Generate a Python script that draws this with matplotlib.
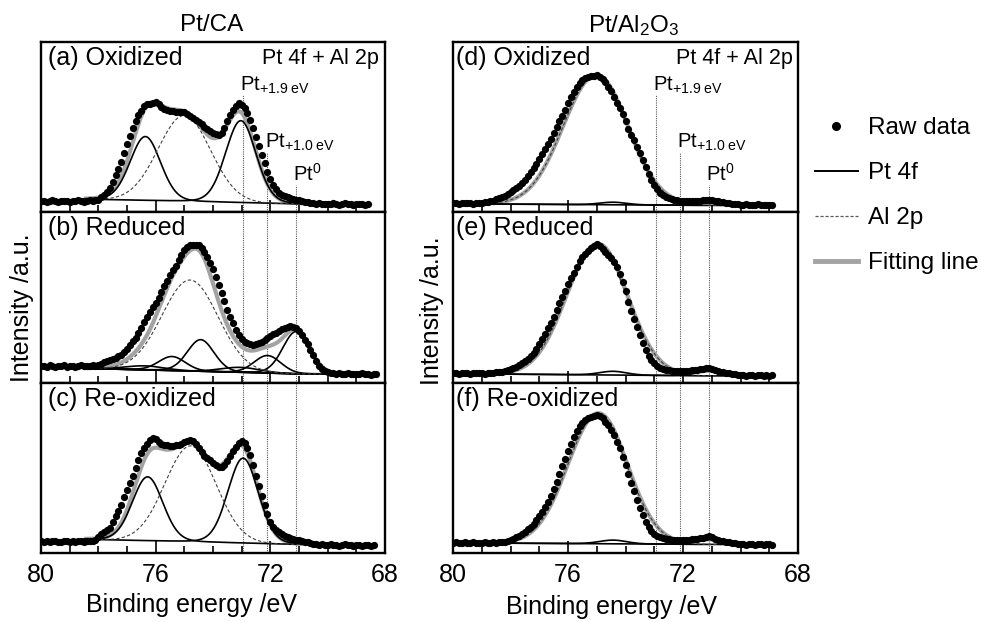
import numpy as np
import matplotlib
matplotlib.use('Agg')
import matplotlib.pyplot as plt
from matplotlib.lines import Line2D
from matplotlib.ticker import MultipleLocator

plt.rcParams['font.family'] = ['Liberation Sans', 'DejaVu Sans']
plt.rcParams['mathtext.fontset'] = 'custom'
plt.rcParams['mathtext.rm'] = 'Liberation Sans'
plt.rcParams['mathtext.it'] = 'Liberation Sans:italic'

# raw intensity (a.u.), one point every 0.1 eV starting at 80.0 eV
STEP = 0.1
raw_a = [10.5, 11, 10, 10.5, 11.5, 10.5, 10, 11, 10.5, 11, 10, 10.5, 11, 11.5, 10.5, 10, 11, 11.5, 11, 11.5,
         12, 15, 17, 20, 24, 30, 37, 43, 50, 59,
         68, 76, 84, 91, 97, 101, 106, 108, 108, 109,
         110, 108, 105, 103, 102, 101, 101, 100, 100, 100,
         100, 98, 96, 94, 92, 90, 88, 85, 83, 81,
         79, 78, 77, 79, 84, 91, 97, 102, 106, 109,
         107, 104, 99, 92, 84, 75, 66, 57, 49, 40,
         33, 27, 23, 19, 17, 16, 15, 14, 13, 12,
         11.5, 11, 10, 9.5, 9, 8.5, 8, 8.5, 7.5, 8,
         8, 7.5, 8.5, 8, 7, 8, 8.5, 7.5, 8, 7,
         8, 7.5, 8, 7, 7.5]
raw_b = [16.5, 17, 16, 17.5, 16.5, 16, 17, 16.5, 17.5, 16, 16.5, 17, 16, 17, 17.5, 16.5, 17, 16.5, 17.5, 17,
         17.5, 19, 21, 22, 23, 24, 25, 26.5, 28, 30.5,
         34, 38, 41.5, 45, 50, 55, 61, 66, 71, 75.5,
         80, 85, 90, 96, 101, 107, 112, 116.5, 122, 127,
         132, 135, 137, 137.5, 137.5, 137, 134, 130, 125, 119,
         113, 105, 97, 89, 82, 73, 66, 60, 53, 48,
         44, 41, 40, 39, 38, 38.5, 40, 41, 42.5, 44.5,
         46.5, 48.5, 50, 52, 53.5, 55, 56, 56.5, 56, 54.5,
         52, 48, 43, 38.5, 33, 27.5, 21.5, 17, 14, 12,
         11, 10, 9.5, 9, 9.5, 8.5, 9, 9.5, 8.5, 9,
         9, 8.5, 9.5, 8.5, 9, 8, 9, 8.5]
raw_c = [12, 11.5, 12.5, 11, 12, 12.5, 11.5, 11, 12, 12.5, 11.5, 12, 11, 12.5, 12, 11.5, 12, 12.5, 12, 13,
         16, 19, 21.5, 23.5, 25, 31, 37, 42, 48, 56,
         63, 70, 77, 85, 93, 100, 105, 109, 113, 115.5,
         114, 111, 109, 108, 108, 107.5, 107, 108, 108.5, 109.5,
         111, 112.5, 113.5, 112, 109.5, 105, 101, 97.5, 95, 93,
         90.5, 88, 86, 86, 88.5, 92, 97, 102, 106, 110,
         112, 110, 105, 98, 88, 77, 67, 57, 48, 39,
         31, 26, 23, 21, 19, 17, 16, 15, 14.5, 13.5,
         13, 12, 11.5, 11, 10, 9.5, 9, 8.5, 9, 8,
         8.5, 9, 8, 8.5, 7.5, 8.5, 9, 8, 8.5, 7.5,
         8.5, 8, 7.5, 8.5, 8, 7.5, 8]
raw_d = [8.5, 9, 8, 9, 8.5, 9, 8.5, 8, 9, 8.5,
         9, 9.5, 10, 10.5, 11.3, 12.5, 13.5, 14.5, 16, 17.5,
         19.5, 21.5, 23.5, 26, 29, 32, 36, 40, 44, 48,
         53, 58, 63, 67.5, 72.5, 78.5, 84.5, 90.5, 96, 102,
         109, 115, 120, 125, 129.5, 132.5, 134, 135, 136, 136,
         137, 135.5, 133.5, 130, 125, 120.5, 115, 109, 103.5, 98,
         91, 83, 77, 71.5, 65, 58.5, 51.5, 45, 37.5, 32,
         26.5, 22.5, 19, 16.5, 15, 13.5, 12.5, 12, 11.5, 11,
         10.5, 10.5, 10.5, 10.5, 11, 11, 11, 11.5, 11.5, 12,
         11.5, 11, 10.5, 10, 9.5, 9, 8.5, 8, 7.5, 7.5,
         7, 6.5, 7.5, 7, 6.5, 7, 7.5, 6.5, 7, 6.5,
         7, 6.5]
raw_e = [9.5, 10, 9, 9.5, 10, 9.5, 9, 10, 9.5, 10,
         9.5, 9, 10, 9.5, 10, 10.5, 10.5, 11, 11.5, 12.5,
         13.5, 14.5, 16, 17.5, 19.5, 21.5, 24, 27, 30, 34,
         39, 44, 49, 55, 60, 66, 73, 80, 85.5, 91,
         98, 104, 109.5, 115.5, 121, 125, 128, 131, 134, 136,
         138, 136, 133, 130, 127, 124, 120, 115, 108, 100,
         91, 81, 72, 64, 56, 48, 39.5, 33, 27, 23,
         19.5, 17, 15, 14, 13, 12.5, 12, 12, 11.5, 11.5,
         11.5, 12, 12, 12.5, 13, 13, 13.5, 14, 14.5, 14.5,
         14, 13, 12, 11, 10.5, 10, 9.5, 9, 8.5, 8,
         7.5, 8, 7, 7.5, 8, 7, 7.5, 8, 7, 7.5,
         7, 7.5]
raw_f = [10.5, 11, 10, 10.5, 11, 10.5, 10, 11, 10.5, 10,
         10.5, 11, 10.5, 10, 11, 10.5, 11, 11, 11.5, 12,
         13, 14.5, 16, 17.5, 19.5, 21.5, 24, 26.5, 29.5, 33,
         37, 41, 46, 51.5, 57.5, 64, 71, 79, 87, 94,
         102, 109.5, 116, 122, 127, 130.5, 133, 135, 136.5, 137.5,
         138, 137.5, 135, 131.5, 128, 123.5, 118, 111, 105, 96.5,
         88, 79, 70, 62, 53, 45, 38, 31.5, 26.5, 22,
         19.5, 17.5, 16, 15, 14.5, 14, 13.5, 13, 13, 13,
         13, 13.5, 13.5, 14, 14, 14.5, 15, 15.5, 16, 17,
         16, 14.5, 13.5, 12.5, 12, 11.5, 11, 10.5, 10, 9.5,
         9, 9.5, 8.5, 9, 9.5, 8.5, 9, 9, 8.5, 9,
         9, 8.5]

# fitted Pt 4f peaks: (centre eV, height, FWHM eV)
pt_a = [(73.03, 82, 1.25), (76.36, 64, 1.25)]
pt_b = [(71.1, 42, 1.1), (74.43, 31.5, 1.1), (72.1, 17.5, 1.1), (75.43, 14, 1.1),
        (73.05, 5, 1.6), (76.38, 4, 1.6)]
pt_c = [(72.95, 85, 1.25), (76.28, 64, 1.25)]
pt_d = [(71.1, 3.5, 1.1), (74.43, 2.6, 1.1)]
pt_e = [(71.1, 5, 1.1), (74.43, 3.7, 1.1)]
pt_f = [(71.1, 5, 1.1), (74.43, 3.7, 1.1)]
# fitted Al 2p peak: (centre eV, height, FWHM eV)
al_a = (75.0, 86, 2.15)
al_b = (74.8, 90.5, 2.3)
al_c = (74.78, 96, 2.1)
al_d = (75.05, 128.5, 2.65)
al_e = (75.0, 128.5, 2.5)
al_f = (74.98, 128.5, 2.45)
# background level on the high / low binding energy side
bg_a = (12.7, 8.0)
bg_b = (14.5, 9.0)
bg_c = (13.5, 8.5)
bg_d = (8.0, 6.5)
bg_e = (9.0, 7.0)
bg_f = (10.0, 8.5)
# energy range of the fit curves
range_left = (78.5, 70.0)
range_right = (80.0, 68.9)

labels = ['(a) Oxidized', '(b) Reduced', '(c) Re-oxidized',
          '(d) Oxidized', '(e) Reduced', '(f) Re-oxidized']
ref_lines = [72.95, 72.1, 71.1]
ref_names = [r'Pt$_{\mathrm{+1.9\ eV}}$', r'Pt$_{\mathrm{+1.0\ eV}}$', r'Pt$^{\mathrm{0}}$']
ref_text_h = [121, 64.5, 31.5]
ref_line_top = [117, 60, 27]


def peak(x, c, h, w, mix=0.1):
    g = np.exp(-4 * np.log(2) * ((x - c) / w) ** 2)
    lor = 1 / (1 + 4 * ((x - c) / w) ** 2)
    return h * ((1 - mix) * g + mix * lor)


def background(x, hi, lo):
    return np.interp(x, [71.0, 78.3], [lo, hi])


fig = plt.figure(figsize=(9.81, 6.22), dpi=100)
W, H = 981, 622


def add_ax(x0, x1, y0, y1):
    return fig.add_axes([x0 / W, 1 - y1 / H, (x1 - x0) / W, (y1 - y0) / H])


rows = [(42, 212), (212, 383), (383, 553)]
axes = [add_ax(41, 385, *r) for r in rows] + [add_ax(453, 798, *r) for r in rows]

raws = [raw_a, raw_b, raw_c, raw_d, raw_e, raw_f]
pts = [pt_a, pt_b, pt_c, pt_d, pt_e, pt_f]
als = [al_a, al_b, al_c, al_d, al_e, al_f]
bgs = [bg_a, bg_b, bg_c, bg_d, bg_e, bg_f]

for i, ax in enumerate(axes):
    right = i >= 3
    lo, hi = range_right if right else range_left
    xf = np.linspace(hi, lo, 500)
    bg = background(xf, *bgs[i])
    al = peak(xf, *als[i], mix=0.0)
    pt_curves = [peak(xf, *p) for p in pts[i]]
    fit = bg + al + np.sum(pt_curves, axis=0)

    ax.plot(xf, fit, color='#a3a3a3', lw=3.0, zorder=1, solid_capstyle='butt')
    for pc in pt_curves:
        ax.plot(xf, bg + pc, color='k', lw=1.2, zorder=2)
    ax.plot(xf, bg + al, color='0.25', lw=0.8, ls=(0, (3, 2)), zorder=2)

    be = 80.0 - STEP * np.arange(len(raws[i]))
    ax.plot(be, raws[i], 'o', color='k', ms=5.2, mec='none', zorder=3)

    # reference positions of the Pt species
    for j, xl in enumerate(ref_lines):
        if i % 3 == 0:
            ax.vlines(xl, 0, ref_line_top[j], colors='0.35', lw=0.8, linestyles=(0, (1, 1)), zorder=0)
            ax.text(xl + 0.1, ref_text_h[j], ref_names[j], fontsize=14.5, ha='left', va='baseline')
        else:
            ax.axvline(xl, color='0.35', lw=0.8, ls=(0, (1, 1)), zorder=0)

    if i % 3 == 0:
        ax.text(0.982 if not right else 0.986, 0.868, 'Pt 4f + Al 2p', transform=ax.transAxes,
                fontsize=15.5, ha='right', va='baseline')
    ax.text(0.02 if not right else 0.008, 0.865, labels[i], transform=ax.transAxes,
            fontsize=18, ha='left', va='baseline')

    ax.set_xlim(80, 68)
    ax.set_ylim(0, 170)
    ax.set_yticks([])
    ax.xaxis.set_major_locator(MultipleLocator(4))
    ax.xaxis.set_minor_locator(MultipleLocator(1))
    ax.tick_params(axis='x', which='major', direction='in', length=9, width=1.2,
                   labelsize=18, pad=7, labelbottom=(i % 3 == 2))
    ax.tick_params(axis='x', which='minor', direction='in', length=5, width=1.2)
    for sp in ax.spines.values():
        sp.set_linewidth(1.7)

fig.text(212 / W, 1 - 25 / H, 'Pt/CA', fontsize=17.5, ha='center', va='center')
fig.text(634 / W, 1 - 26 / H, r'Pt/Al$_2$O$_3$', fontsize=17.5, ha='center', va='center')
fig.text(22 / W, 1 - 308 / H, 'Intensity /a.u.', fontsize=18, rotation=90, ha='center', va='center')
fig.text(432 / W, 1 - 311 / H, 'Intensity /a.u.', fontsize=18, rotation=90, ha='center', va='center')
fig.text(191 / W, 1 - 605 / H, 'Binding energy /eV', fontsize=18, ha='center', va='center')
fig.text(612 / W, 1 - 607 / H, 'Binding energy /eV', fontsize=18, ha='center', va='center')

handles = [Line2D([], [], marker='o', ls='none', color='k', ms=5.5),
           Line2D([], [], color='k', lw=1.4),
           Line2D([], [], color='0.35', lw=0.9, ls=(0, (2.5, 1.5))),
           Line2D([], [], color='#a3a3a3', lw=3.5)]
fig.legend(handles, ['Raw data', 'Pt 4f', 'Al 2p', 'Fitting line'],
           loc='upper left', bbox_to_anchor=(815 / W, 1 - 117 / H), frameon=False,
           fontsize=17.5, handlelength=1.75, handletextpad=0.45, labelspacing=0.95,
           borderpad=0, borderaxespad=0, numpoints=1)

fig.savefig('out.png', dpi=100)
